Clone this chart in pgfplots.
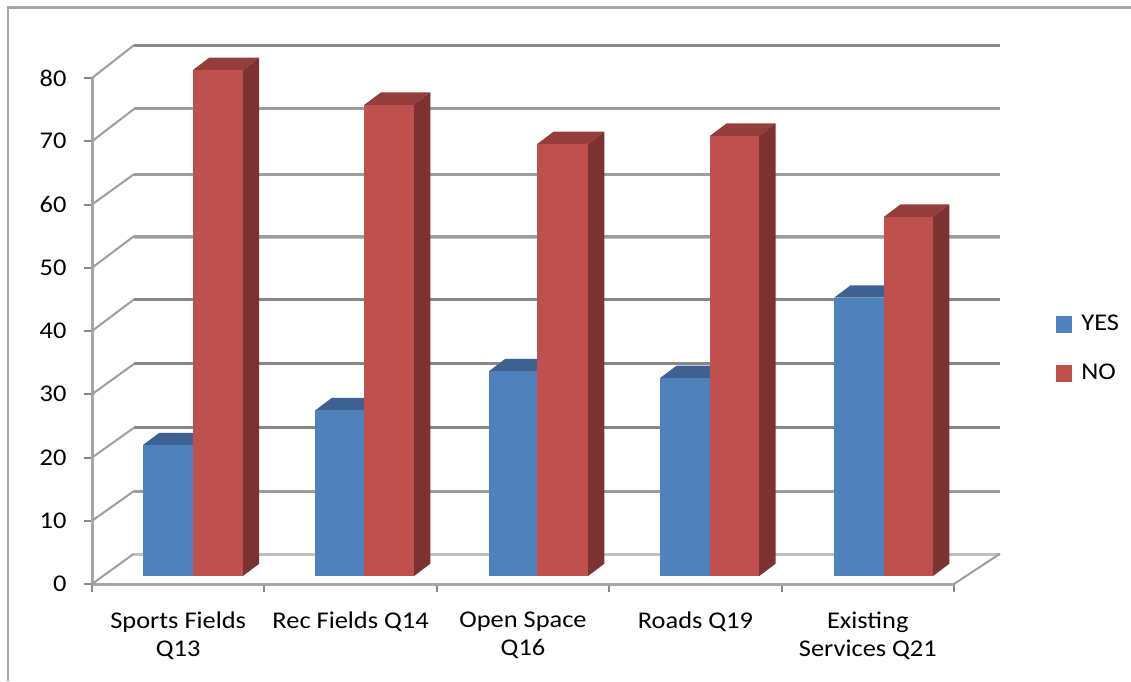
\documentclass[border=0pt]{standalone}
\usepackage{fontspec}
\setmainfont{Carlito}[FakeStretch=1.1]
\usepackage{pgfplots}
\pgfplotsset{compat=1.18}
\definecolor{cblue}{HTML}{4F81BD}
\definecolor{cbluetop}{HTML}{3D6291}
\definecolor{cred}{HTML}{C0504D}
\definecolor{credtop}{HTML}{943D3B}
\definecolor{credside}{HTML}{7B3231}
\definecolor{cgrid}{HTML}{9E9E9E}
\definecolor{cgriddark}{HTML}{888888}
\definecolor{cgridlight}{HTML}{C0C0C0}
\definecolor{cframe}{HTML}{A6A6A6}
% depth of the 3-D effect, in axis units
\newcommand{\ddx}{0.095}
\newcommand{\ddy}{1.95}
\newcommand{\bbase}{1.26}
\newcommand{\barfaces}[6]{%
  \pgfmathsetmacro{\xa}{#1}\pgfmathsetmacro{\xb}{#2}%
  \pgfmathsetmacro{\xc}{#1+\ddx}\pgfmathsetmacro{\xd}{#2+\ddx}%
  \pgfmathsetmacro{\ya}{\bbase}\pgfmathsetmacro{\yb}{\bbase+#3}%
  \pgfmathsetmacro{\yc}{\bbase+\ddy}\pgfmathsetmacro{\yd}{\bbase+#3+\ddy}%
  \addplot[fill=#5,draw=none,forget plot] coordinates {(\xa,\yb) (\xb,\yb) (\xd,\yd) (\xc,\yd)} --cycle;
  \addplot[fill=#6,draw=none,forget plot] coordinates {(\xb,\ya) (\xd,\yc) (\xd,\yd) (\xb,\yb)} --cycle;
  \addplot[fill=#4,draw=none,forget plot] coordinates {(\xa,\ya) (\xb,\ya) (\xb,\yb) (\xa,\yb)} --cycle;
}
\newcommand{\gridl}[3]{%
  \addplot[cgrid,line width=2pt,forget plot] coordinates {(0,#1) (0.2436,#2)};
  \addplot[#3,line width=3pt,forget plot] coordinates {(0.2436,#2) (5.267,#2)};
}
\begin{document}
\begin{tikzpicture}[x=1pt,y=1pt]
\path[use as bounding box] (-92,-97) rectangle (1039,584);
\draw[cframe,line width=2.4pt] (-84,-97) -- (-84,576.5) -- (1039,576.5);
\begin{axis}[
  scale only axis, width=862pt, height=506pt,
  at={(0,0)}, anchor=south west, clip=false,
  xmin=0, xmax=5, ymin=0, ymax=80,
  axis y line*=left, axis x line*=bottom,
  axis line style={cframe,line width=3pt,-},
  xtick={0,1,2,3,4,5},
  x tick label as interval,
  xticklabels={{Sports Fields\\Q13},{Rec Fields Q14},{Open Space\\Q16},{Roads Q19},{Existing\\Services Q21}},
  x tick label style={align=center,font=\fontsize{24}{28}\selectfont,yshift=-16pt,anchor=north},
  ytick={0,10,...,80},
  y tick label style={font=\fontsize{24}{28}\selectfont,xshift=-14pt},
  /pgf/number format/assume math mode=true,
  tick align=outside, major tick length=8pt,
  tick style={cgriddark,line width=2pt},
  legend style={at={(964pt,271pt)},anchor=north west,draw=none,fill=none,
    font=\fontsize{24}{28}\selectfont,row sep=28pt,inner sep=0pt,
    /tikz/every even column/.append style={column sep=0pt}},
  legend cell align=left,
  legend image code/.code={\fill[#1] (0pt,-8pt) rectangle (15pt,8pt);\path[draw=none,fill=none] (0pt,0pt) -- (23pt,0pt);},
]
\addlegendimage{cblue}
\addlegendentry{YES}
\addlegendimage{cred}
\addlegendentry{NO}
% back wall grid lines: front value, back value
\gridl{80}{85.2}{cgriddark}
\gridl{70}{75.1}{cgrid}
\gridl{60}{64.8}{cgrid}
\addplot[cgridlight,line width=2pt,forget plot] coordinates {(0.2436,54.7) (5.267,54.7)};
\gridl{50}{55.0}{cgrid}
\gridl{40}{45.0}{cgriddark}
\gridl{30}{34.8}{cgriddark}
\gridl{20}{24.7}{cgriddark}
\gridl{10}{14.7}{cgrid}
\addplot[cgridlight,line width=3pt,forget plot] coordinates {(0.2436,4.6) (5.267,4.6)};
\addplot[cgrid,line width=2pt,forget plot] coordinates {(0,0) (0.2436,4.8)};
\addplot[cgrid,line width=2pt,forget plot] coordinates {(5.0,0) (5.267,4.8)};
% YES then NO bars
\barfaces{0.295}{0.585}{20.7}{cblue}{cbluetop}{cbluetop}
\barfaces{0.585}{0.875}{80.0}{cred}{credtop}{credside}
\barfaces{1.295}{1.580}{26.2}{cblue}{cbluetop}{cbluetop}
\barfaces{1.580}{1.868}{74.5}{cred}{credtop}{credside}
\barfaces{2.303}{2.582}{32.4}{cblue}{cbluetop}{cbluetop}
\barfaces{2.582}{2.877}{68.3}{cred}{credtop}{credside}
\barfaces{3.295}{3.585}{31.3}{cblue}{cbluetop}{cbluetop}
\barfaces{3.585}{3.870}{69.6}{cred}{credtop}{credside}
\barfaces{4.304}{4.594}{44.0}{cblue}{cbluetop}{cbluetop}
\barfaces{4.594}{4.878}{56.8}{cred}{credtop}{credside}
\end{axis}
\end{tikzpicture}
\end{document}
